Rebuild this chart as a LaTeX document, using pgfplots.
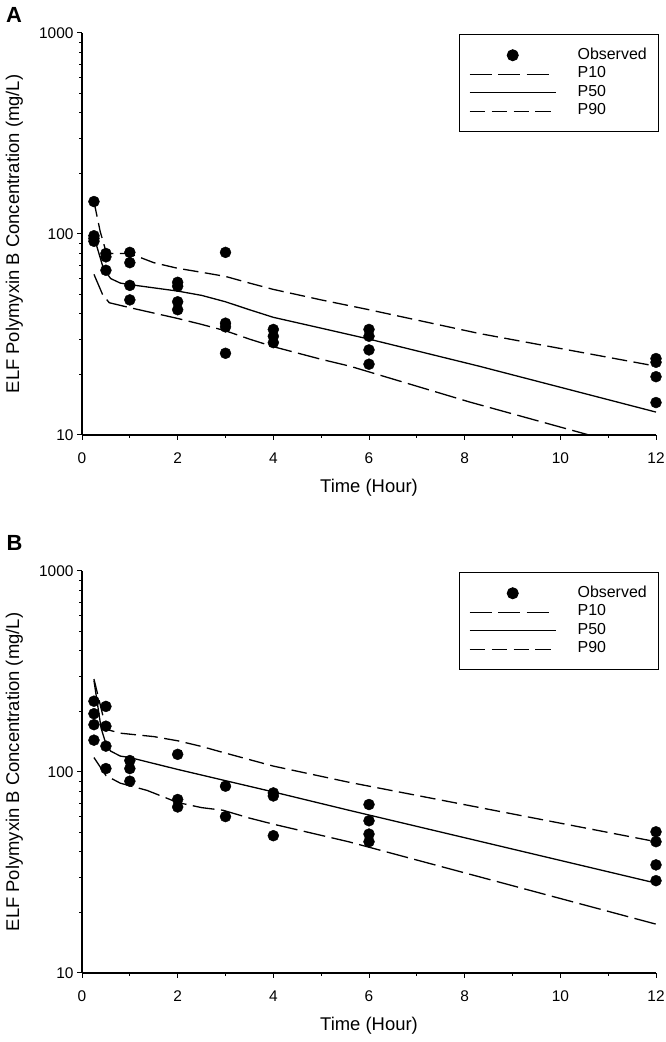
\documentclass[border=0pt]{standalone}
\usepackage{fontspec}
\setmainfont{Liberation Sans}
\usepackage{pgfplots}
\pgfplotsset{compat=1.18}
\pgfplotsset{
  elfpanel/.style={
    scale only axis, width=574bp, height=402bp,
    xmin=0, xmax=12, ymin=10, ymax=1000,
    axis lines=left, axis line style={-, line width=1.1bp},
    tick align=outside, major tick length=5bp, minor tick length=3bp,
    every tick/.style={black, line width=1bp},
    xtick={0,2,4,6,8,10,12}, xticklabels={0,2,4,6,8,10,12},
    minor xtick={1,3,5,7,9,11},
    ytick={10,100,1000}, yticklabels={10,100,1000},
    minor ytick={20,30,40,50,60,70,80,90,200,300,400,500,600,700,800,900},
    tick label style={font=\fontsize{15.5}{18}\selectfont},
    xticklabel style={yshift=-9bp},
    label style={font=\fontsize{18.5}{22}\selectfont},
    xlabel={Time (Hour)},
    ylabel={ELF Polymyxin B Concentration (mg/L)},
    xlabel style={at={(axis description cs:0.5,-0.132)}, anchor=center},
    ylabel style={at={(axis description cs:-0.118,0.5)}, anchor=center},
    legend style={at={(1,1)}, xshift=3bp, yshift=-1bp, anchor=north east, draw=black, line width=1bp,
      inner xsep=10bp, inner ysep=11.5bp, column sep=19bp, row sep=0pt,
      font=\fontsize{16}{18}\selectfont,
      nodes={inner sep=1.75bp, text height=11.5bp, text depth=3.5bp}},
    legend cell align=left,
  },
  lineimg/.style={legend image code/.code={\path (0bp,0bp) (86bp,0bp); \draw[##1] (0bp,-0.5bp) -- (#1,-0.5bp);}},
  dotimg/.style={legend image code/.code={\path (0bp,0bp) (86bp,0bp); \draw[mark repeat=2,mark phase=2,##1] plot coordinates {(0bp,0bp) (43bp,0bp) (86bp,0bp)};}},
  obsplot/.style={only marks, mark=*, mark size=5.5bp, black, dotimg},
  ptenplot/.style={black, line width=1.3bp, dash pattern=on 22bp off 6.5bp, lineimg=79bp},
  pfiftyplot/.style={black, line width=1.3bp, lineimg=86.5bp},
  pnintyplot/.style={black, line width=1.3bp, dash pattern=on 15.4bp off 6.5bp, lineimg=81bp},
}
\begin{document}
\begin{tikzpicture}
\useasboundingbox (0bp,0bp) rectangle (666bp,1042bp);
% Panel A
\begin{axis}[ymode=log, elfpanel, at={(82bp,607bp)}, anchor=south west]
\addplot[obsplot] coordinates {
(0.25,145) (0.25,98) (0.25,95) (0.25,92)
(0.5,80) (0.5,77) (0.5,66)
(1,81) (1,72) (1,55.5) (1,47)
(2,57.5) (2,55) (2,46) (2,42)
(3,81) (3,36) (3,34.5) (3,25.5)
(4,33.5) (4,31) (4,28.8)
(6,33.5) (6,31) (6,26.5) (6,22.5)
(12,24) (12,23) (12,19.5) (12,14.5)};
\addlegendentry{Observed}
\addplot[ptenplot] coordinates {
(0.25,63) (0.43,50) (0.57,45.5) (1,43) (2,38) (2.5,35.5) (3,33) (3.5,30) (4,27.5) (5,23.8) (5.6,22) (8.1,14.6) (10.6,10) (12,8.1)};
\addlegendentry{P10}
\addplot[pfiftyplot] coordinates {
(0.25,97) (0.45,67) (0.6,60) (0.8,57) (1,56) (2,52) (2.5,49.5) (3,46) (3.5,42) (4,38.5) (5,34) (6,30) (8.3,22) (12,13)};
\addlegendentry{P50}
\addplot[pnintyplot] coordinates {
(0.25,145) (0.38,103) (0.5,82) (0.6,80) (1,80) (1.5,72) (2,67.5) (2.5,64.5) (3,61.5) (3.5,57) (4,53) (5,47) (6,42) (8.3,32) (12,22)};
\addlegendentry{P90}
\end{axis}
% Panel B
\begin{axis}[ymode=log, elfpanel, at={(82bp,69bp)}, anchor=south west]
\addplot[obsplot] coordinates {
(0.25,225) (0.25,195) (0.25,172) (0.25,144)
(0.5,212) (0.5,169) (0.5,134.5) (0.5,104)
(1,114) (1,104) (1,90)
(2,122.4) (2,73) (2,67)
(3,85) (3,60)
(4,78.7) (4,76) (4,48.2)
(6,68.9) (6,57.2) (6,49.1) (6,45)
(12,50.4) (12,45) (12,34.5) (12,28.8)};
\addlegendentry{Observed}
\addplot[ptenplot] coordinates {
(0.25,118) (0.5,96) (0.8,88) (1.36,81) (2,70.5) (2.5,66.5) (2.95,64.5) (3.5,59) (4,55) (5.57,45) (12,17.5)};
\addlegendentry{P10}
\addplot[pfiftyplot] coordinates {
(0.25,285) (0.4,165) (0.5,138) (0.6,127) (0.8,120) (1,118) (2,103) (2.9,91.7) (4,79.6) (5.57,64.6) (12,28)};
\addlegendentry{P50}
\addplot[pnintyplot] coordinates {
(0.25,290) (0.45,185) (0.55,162) (0.8,156) (1.5,150) (2,143) (2.5,134) (2.9,126) (4,107) (5.57,89) (12,45)};
\addlegendentry{P90}
\end{axis}
\node[font=\bfseries\fontsize{22}{26}\selectfont] at (14bp,1027bp) {A};
\node[font=\bfseries\fontsize{22}{26}\selectfont] at (14.5bp,499bp) {B};
\end{tikzpicture}
\end{document}
